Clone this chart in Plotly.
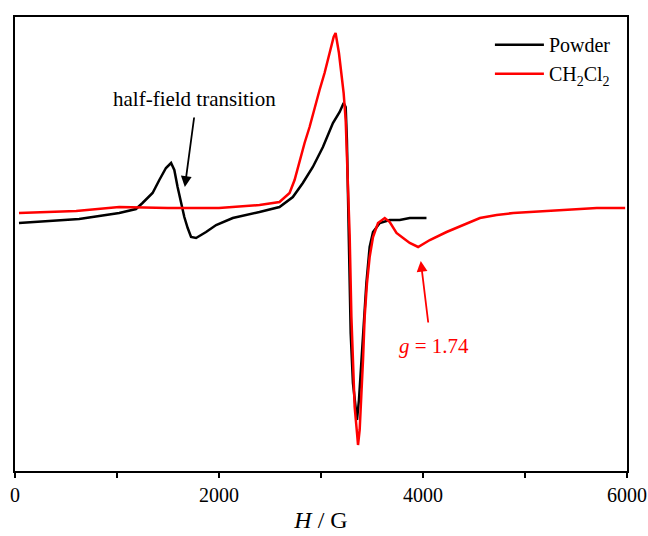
import plotly.graph_objects as go

# Field (G) and intensity (arbitrary units)
powder_field = [39, 629, 1022, 1186, 1250, 1349, 1415, 1480, 1530, 1562, 1594, 1628, 1660, 1693,
                1726, 1775, 1873, 1972, 2135, 2397, 2593, 2724, 2822, 2920, 3019, 3117, 3183,
                3222, 3242, 3254, 3266, 3276, 3291, 3313, 3340, 3353, 3372, 3396, 3412, 3445,
                3477, 3510, 3576, 3674, 3772, 3870, 4001, 4034]
powder_int = [248, 252, 258, 262, 268, 278, 291, 303, 308, 301, 284, 268, 254, 243,
              234, 233, 239, 246, 253, 259, 264, 274, 288, 304, 324, 348, 359,
              368, 364, 331, 271, 204, 138, 88, 58, 51, 71, 111, 144, 188,
              224, 239, 248, 251, 251, 253, 253, 253]

ch2cl2_field = [39, 600, 1022, 1500, 2000, 2397, 2593, 2692, 2741, 2790, 2839, 2888, 2937, 2986,
                3035, 3084, 3124, 3143, 3176, 3199, 3222, 3242, 3254, 3268, 3281, 3298, 3313,
                3330, 3353, 3363, 3379, 3396, 3412, 3428, 3451, 3477, 3510, 3559, 3625, 3674,
                3740, 3805, 3870, 3952, 4067, 4231, 4394, 4558, 4722, 4885, 5049, 5213, 5377,
                5540, 5704, 5867, 5982]
ch2cl2_int = [258, 260, 264, 263, 263, 266, 269, 278, 291, 311, 328, 344, 364, 381,
              398, 418, 434, 438, 418, 398, 378, 351, 318, 271, 236, 154, 104,
              64, 38, 26, 41, 71, 111, 154, 188, 214, 234, 248, 253, 249,
              238, 233, 228, 224, 231, 239, 246, 253, 256, 258, 259, 260, 261,
              262, 263, 263, 263]

font = "Liberation Serif, Times New Roman, serif"

fig = go.Figure()
fig.add_trace(go.Scatter(x=powder_field, y=powder_int, mode="lines", name="Powder",
                         line=dict(color="black", width=2.5)))
fig.add_trace(go.Scatter(x=ch2cl2_field, y=ch2cl2_int, mode="lines",
                         name="CH<sub>2</sub>Cl<sub>2</sub>",
                         line=dict(color="red", width=2.5)))

fig.update_layout(
    width=648, height=536,
    margin=dict(l=15, r=21, t=17, b=65, autoexpand=False),
    paper_bgcolor="white", plot_bgcolor="white",
    font=dict(family=font, color="black"),
    showlegend=True,
    legend=dict(x=0.776, y=0.982, xanchor="left", yanchor="top", itemwidth=49,
                font=dict(family=font, size=20, color="black"),
                bgcolor="rgba(0,0,0,0)", tracegroupgap=0),
    xaxis=dict(range=[0, 6000], tickvals=[0, 1000, 2000, 3000, 4000, 5000, 6000],
               ticktext=["0", "", "2000", "", "4000", "", "6000"],
               ticks="outside", ticklen=5, tickwidth=1.5, tickcolor="black",
               showline=True, linecolor="black", linewidth=1.5, mirror=True,
               showgrid=False, zeroline=False, automargin=False,
               tickfont=dict(family=font, size=20, color="black"),
               title=dict(text="<i>H</i> / G", font=dict(family=font, size=24, color="black"),
                          standoff=6)),
    yaxis=dict(range=[0, 454], showticklabels=False, ticks="", automargin=False,
               showline=True, linecolor="black", linewidth=1.5, mirror=True,
               showgrid=False, zeroline=False),
    annotations=[
        dict(x=1665, y=284, ax=1758, ay=355, xref="x", yref="y", axref="x", ayref="y",
             showarrow=True, arrowhead=2, arrowsize=1.2, arrowwidth=1.8, arrowcolor="black",
             text=""),
        dict(x=1755, y=372, xref="x", yref="y", text="half-field transition", showarrow=False,
             font=dict(family=font, size=21, color="black")),
        dict(x=3978, y=210, ax=4053, ay=147, xref="x", yref="y", axref="x", ayref="y",
             showarrow=True, arrowhead=2, arrowsize=1.2, arrowwidth=1.8, arrowcolor="red",
             text=""),
        dict(x=4108, y=125, xref="x", yref="y", text="<i>g</i> = 1.74", showarrow=False,
             font=dict(family=font, size=21, color="red")),
    ],
)

fig.write_html("out.html", config={"displayModeBar": False},
               post_script="document.body.style.margin='0';document.body.style.overflow='hidden';")
